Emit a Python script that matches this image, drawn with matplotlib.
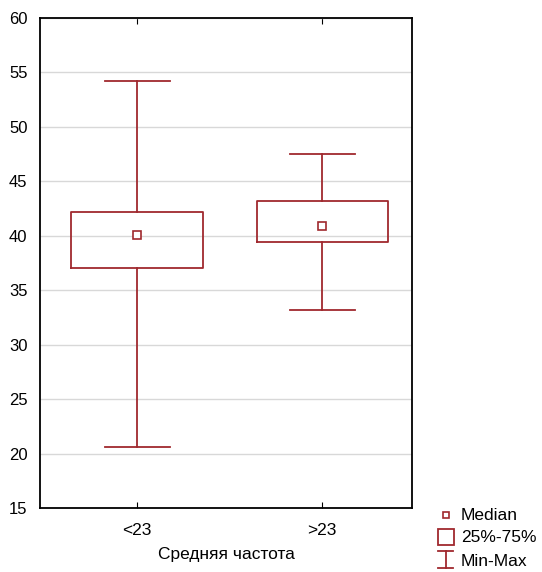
import matplotlib
matplotlib.use("Agg")
import matplotlib.pyplot as plt
from matplotlib.lines import Line2D
from matplotlib.patches import Rectangle

plt.rcParams['font.family'] = ['Liberation Sans', 'DejaVu Sans']

groups = ['<23', '>23']
mins = [20.6, 33.2]
q1 = [37.0, 39.4]
medians = [40.1, 40.9]
q3 = [42.2, 43.2]
maxs = [54.2, 47.5]
yticks = [15, 20, 25, 30, 35, 40, 45, 50, 55, 60]
xlabel = 'Средняя частота'
legend_labels = ['Median', '25%-75%', 'Min-Max']

red = '#a0292e'

fig = plt.figure(figsize=(5.42, 5.72), dpi=100)
ax = fig.add_axes([40/542, 1 - 508/572, 372/542, 490/572])

stats = []
for i, g in enumerate(groups):
    stats.append(dict(label=g, whislo=mins[i], q1=q1[i], med=medians[i],
                      q3=q3[i], whishi=maxs[i], fliers=[]))

pos = [0, 1]
ax.bxp(stats, positions=pos, widths=0.71, capwidths=0.35,
       boxprops=dict(color=red, lw=1.3),
       whiskerprops=dict(color=red, lw=1.3),
       capprops=dict(color=red, lw=1.3),
       medianprops=dict(visible=False),
       showfliers=False, manage_ticks=False)
ax.plot(pos, medians, 's', ms=5.5, mfc='white', mec=red, mew=1.2, ls='none', zorder=5)

ax.set_xlim(-0.525, 1.485)
ax.set_ylim(15, 60)
ax.set_yticks(yticks)
ax.set_xticks(pos)
ax.set_xticklabels(groups)
ax.grid(axis='y', color='#d8d8d8', lw=1)
ax.set_axisbelow(True)
ax.tick_params(axis='x', direction='in', top=True, length=4, labelsize=12.5, pad=11, colors='black')
ax.tick_params(axis='y', direction='in', length=0, labelsize=12, pad=9)
for s in ax.spines.values():
    s.set_linewidth(1.3)
ax.set_xlabel(xlabel, fontsize=12.5, labelpad=6)

# legend in the lower-right corner, in pixel units
lg = fig.add_axes([430/542, 0, 112/542, 80/572])
lg.set_xlim(430, 542)
lg.set_ylim(572, 492)
lg.axis('off')
lg.plot([446], [515], 's', ms=5, mfc='white', mec=red, mew=1.2)
lg.add_patch(Rectangle((437.5, 529), 16, 16, fill=False, ec=red, lw=1.3))
lg.add_line(Line2D([445.5, 445.5], [551, 568], color=red, lw=1.3))
lg.add_line(Line2D([438, 453], [551, 551], color=red, lw=1.3))
lg.add_line(Line2D([438, 453], [568, 568], color=red, lw=1.3))
for y, t in zip([515, 537, 561], legend_labels):
    lg.text(461, y, t, fontsize=12.5, va='center', ha='left')

fig.savefig('out.png', dpi=100)
